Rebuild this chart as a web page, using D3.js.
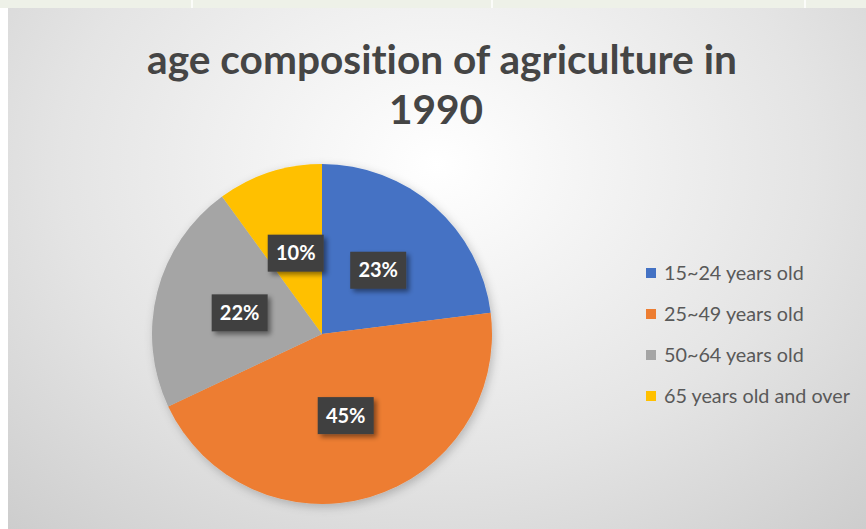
<!DOCTYPE html>
<html>
<head>
<meta charset="utf-8">
<script src="https://cdn.jsdelivr.net/npm/d3@7"></script>
<style>
  html, body { margin: 0; padding: 0; background: #ffffff; }
  svg { display: block; }
  text { font-variant-ligatures: none; }
</style>
</head>
<body>
<svg id="chart" width="866" height="529"></svg>
<script>
const categories = ["15~24 years old", "25~49 years old", "50~64 years old", "65 years old and over"];
const values = [23, 45, 22, 10];
const labels = ["23%", "45%", "22%", "10%"];
const colors = ["#4472C4", "#ED7D31", "#A5A5A5", "#FFC000"];
const titleLines = ["age composition of agriculture in", "1990"];

const W = 866, H = 529;
const svg = d3.select("#chart");
const defs = svg.append("defs");

// background gradient
const grad = defs.append("radialGradient").attr("id", "bg")
  .attr("cx", "0.5").attr("cy", "0.3").attr("r", "0.8")
  .attr("gradientTransform", "translate(0.5,0.3) scale(1,1.3) translate(-0.5,-0.3)");
grad.append("stop").attr("offset", "0").attr("stop-color", "#ffffff");
grad.append("stop").attr("offset", "0.55").attr("stop-color", "#e4e4e4");
grad.append("stop").attr("offset", "1").attr("stop-color", "#c8c8c8");

const pieShadow = defs.append("filter").attr("id", "pieShadow")
  .attr("x", "-20%").attr("y", "-20%").attr("width", "140%").attr("height", "140%");
pieShadow.append("feDropShadow").attr("dx", 2).attr("dy", 3).attr("stdDeviation", 5)
  .attr("flood-color", "#000").attr("flood-opacity", 0.22);

const boxShadow = defs.append("filter").attr("id", "boxShadow")
  .attr("x", "-30%").attr("y", "-30%").attr("width", "170%").attr("height", "170%");
boxShadow.append("feDropShadow").attr("dx", 3).attr("dy", 3).attr("stdDeviation", 2.5)
  .attr("flood-color", "#000").attr("flood-opacity", 0.45);

// top strip (page behind the chart)
svg.append("rect").attr("x", 0).attr("y", 0).attr("width", W).attr("height", 8).attr("fill", "#eef1e8");
[192, 492, 805].forEach(x => {
  svg.append("line").attr("x1", x).attr("x2", x).attr("y1", 0).attr("y2", 8)
    .attr("stroke", "#ffffff").attr("stroke-width", 1.5);
});

// chart area
svg.append("rect").attr("x", 8).attr("y", 8).attr("width", W - 8).attr("height", H - 8)
  .attr("fill", "url(#bg)");

// title
const font = "Lato, 'Open Sans', 'DejaVu Sans', sans-serif";
const titleG = svg.append("g");
const t1 = titleG.append("text").attr("x", 442).attr("y", 74).attr("text-anchor", "middle")
  .attr("font-family", font).attr("font-weight", 700).attr("font-size", 36)
  .attr("fill", "#454545").text(titleLines[0]);
const t2 = titleG.append("text").attr("x", 436).attr("y", 124).attr("text-anchor", "middle")
  .attr("font-family", font).attr("font-weight", 700).attr("font-size", 36)
  .attr("fill", "#454545").text(titleLines[1]);
// fit title width
const w1 = t1.node().getComputedTextLength();
const fs = 36 * 590 / w1;
t1.attr("font-size", fs);
t2.attr("font-size", fs);

// pie
const cx = 322, cy = 334, R = 170;
const pie = d3.pie().sort(null).value(d => d)(values);
const arc = d3.arc().innerRadius(0).outerRadius(R);

const pg = svg.append("g").attr("transform", `translate(${cx},${cy})`);
pg.append("g").attr("filter", "url(#pieShadow)")
  .selectAll("path").data(pie).join("path")
  .attr("d", arc).attr("fill", (d, i) => colors[i]);

// data labels
const bw = 56, bh = 37;
const lg = pg.append("g").selectAll("g").data(pie).join("g")
  .attr("transform", d => { const c = arc.centroid(d); return `translate(${c[0]},${c[1]})`; });
lg.append("rect").attr("x", -bw / 2).attr("y", -bh / 2).attr("width", bw).attr("height", bh)
  .attr("fill", "#404040").attr("filter", "url(#boxShadow)");
lg.append("text").attr("text-anchor", "middle").attr("dy", "0.36em")
  .attr("font-family", font).attr("font-weight", 700).attr("font-size", 20)
  .attr("fill", "#ffffff").text((d, i) => labels[i]);

// legend
const legY = d3.scalePoint().domain(categories).range([273, 396]);
const leg = svg.append("g").selectAll("g").data(categories).join("g")
  .attr("transform", d => `translate(646,${legY(d)})`);
leg.append("rect").attr("x", 0).attr("y", -5).attr("width", 10).attr("height", 10)
  .attr("fill", (d, i) => colors[i]);
const legText = leg.append("text").attr("x", 18).attr("dy", "0.35em")
  .attr("font-family", font).attr("font-size", 17).attr("fill", "#595959").text(d => d);
const lw = legText.nodes()[3].getComputedTextLength();
legText.attr("font-size", 17 * 186 / lw);
</script>
</body>
</html>
